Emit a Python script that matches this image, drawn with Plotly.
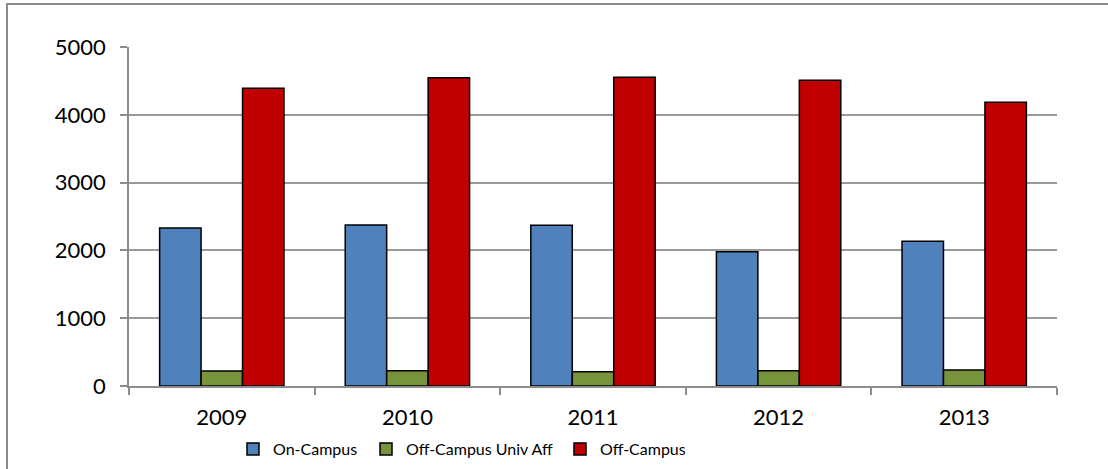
import plotly.graph_objects as go

years = ["2009", "2010", "2011", "2012", "2013"]
on_campus = [2330, 2375, 2370, 1980, 2135]
off_campus_univ_aff = [220, 225, 212, 225, 236]
off_campus = [4390, 4545, 4552, 4510, 4185]

series_names = ["On-Campus", "Off-Campus Univ Aff", "Off-Campus"]
colors = ["#4F81BD", "#77933C", "#C00000"]
y_ticks = [0, 1000, 2000, 3000, 4000, 5000]

W, H = 1108, 469
L, R, T, B = 129, 51, 47, 83
PW, PH = W - L - R, H - T - B

legend_ids = ["legend", "legend2", "legend3"]
legend_left_px = [233, 366, 560]

fig = go.Figure()
for name, vals, col, lid in zip(series_names, [on_campus, off_campus_univ_aff, off_campus], colors, legend_ids):
    fig.add_trace(go.Bar(
        x=years, y=vals, name=name, legend=lid,
        marker=dict(color=col, line=dict(color="#000000", width=1.5)),
    ))

font_family = "Lato, 'Open Sans', sans-serif"
legend_common = dict(
    orientation="h", xanchor="left",
    y=-(449 - (H - B)) / PH, yanchor="middle",
    font=dict(size=16, family=font_family),
    itemwidth=30, tracegroupgap=0,
    bgcolor="rgba(0,0,0,0)",
)
legend_layout = {lid: dict(legend_common, x=(px - L) / PW) for lid, px in zip(legend_ids, legend_left_px)}

fig.update_layout(
    width=W, height=H,
    margin=dict(l=L, r=R, t=T, b=B, autoexpand=False),
    paper_bgcolor="white", plot_bgcolor="white",
    barmode="group", bargap=0.33, bargroupgap=0,
    font=dict(family=font_family, color="#000000"),
    showlegend=True,
    xaxis=dict(
        showline=True, linecolor="#8C8C8C", linewidth=1.5,
        ticks="outside", tickson="boundaries", ticklen=7, tickcolor="#8C8C8C", tickwidth=1.5,
        tickfont=dict(size=22), ticklabelstandoff=11,
        showgrid=False, zeroline=False,
    ),
    yaxis=dict(
        range=[0, 5000], tickvals=y_ticks,
        showline=True, linecolor="#8C8C8C", linewidth=1.5,
        ticks="outside", ticklen=7, tickcolor="#8C8C8C", tickwidth=1.5,
        showgrid=True, gridcolor="#9A9A9A", gridwidth=1.5,
        zeroline=False, tickfont=dict(size=22), ticklabelstandoff=10,
    ),
    shapes=[dict(
        type="rect", xref="paper", yref="paper",
        x0=(7 - L) / PW, x1=(W + 20 - L) / PW,
        y0=-(H + 20 - (H - B)) / PH, y1=1 + (T - 4) / PH,
        line=dict(color="#8C8C8C", width=2), fillcolor="rgba(0,0,0,0)", layer="below",
    )],
    **legend_layout,
)

fig.write_html(
    "out.html",
    config={"displayModeBar": False},
    post_script="document.body.style.margin='0';document.body.style.overflow='hidden';",
)
